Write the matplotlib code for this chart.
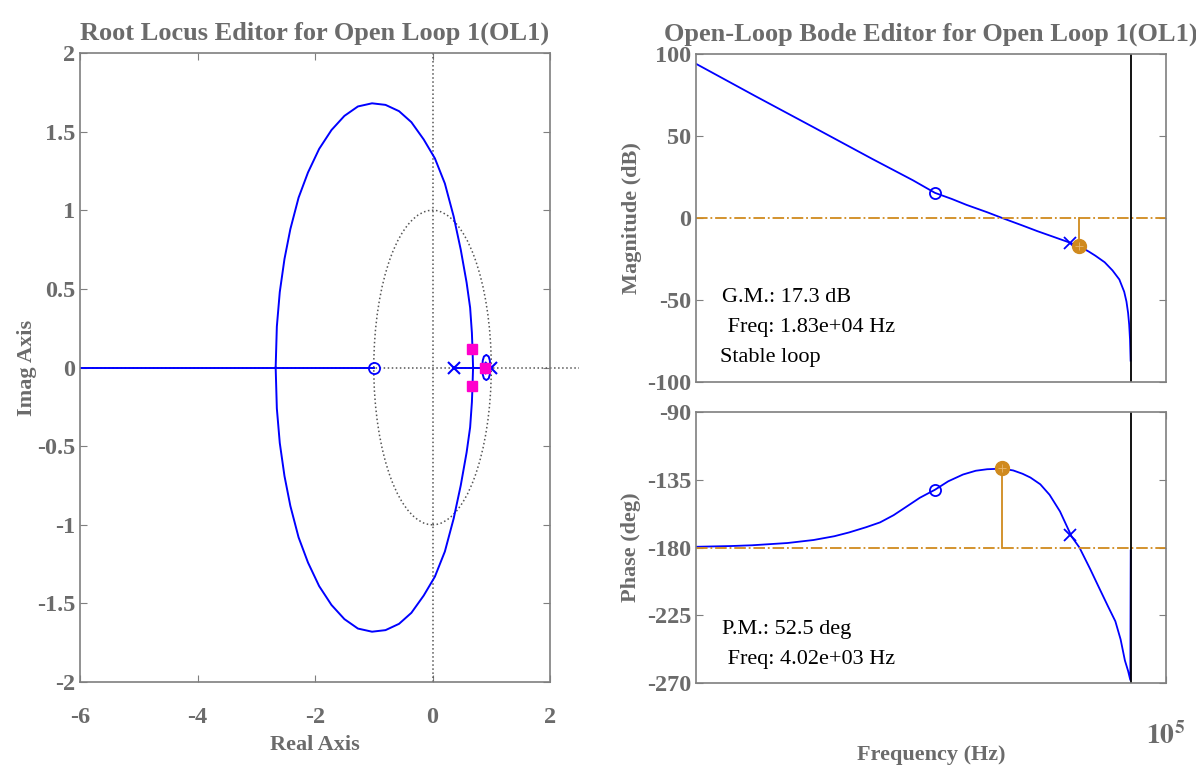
import matplotlib
matplotlib.use("Agg")
import matplotlib.pyplot as plt
from matplotlib.patches import Circle
from matplotlib.ticker import NullLocator

plt.rcParams['font.family'] = ['Liberation Serif', 'DejaVu Serif']
plt.rcParams['mathtext.fontset'] = 'stix'

GRAY = '#6b6b6b'
SPINE = '#7f7f7f'
BLUE = '#0000ff'
ORANGE = '#d08a1e'
MAGENTA = '#ff00cc'

# ---- root locus data ----
rl_up_x = [-2.67, -2.65, -2.60, -2.52, -2.42, -2.28, -2.12, -1.93, -1.72, -1.50, -1.27, -1.03,
           -0.80, -0.57, -0.36, -0.15, 0.04, 0.21, 0.36, 0.48, 0.58, 0.64, 0.67, 0.68, 0.69]
rl_up_y = [0.0, 0.26, 0.48, 0.69, 0.88, 1.08, 1.24, 1.39, 1.51, 1.60, 1.66, 1.68,
           1.67, 1.63, 1.56, 1.45, 1.33, 1.17, 0.96, 0.75, 0.54, 0.38, 0.22, 0.12, 0.0]
rl_lo_y = [0.0, -0.26, -0.48, -0.69, -0.88, -1.08, -1.24, -1.39, -1.51, -1.60, -1.66, -1.68,
           -1.67, -1.63, -1.56, -1.45, -1.33, -1.17, -0.96, -0.75, -0.54, -0.38, -0.22, -0.12, 0.0]
loop_x = [0.845, 0.855, 0.875, 0.915, 0.955, 0.975, 0.985, 0.975, 0.955, 0.915, 0.875, 0.855, 0.845]
loop_y = [0.0, 0.045, 0.07, 0.08, 0.07, 0.045, 0.0, -0.045, -0.07, -0.08, -0.07, -0.045, 0.0]
real_seg1 = [-6.0, -1.0]
real_seg2 = [0.36, 0.87]
ol_poles_x = [0.36, 1.0]
ol_zeros_x = [-1.0]
cl_poles_x = [0.675, 0.675, 0.885]
cl_poles_y = [0.115, -0.115, 0.0]

# ---- bode data ----
mag_f = [10, 31.6, 100, 316, 700, 1080, 1500, 2000, 3000, 4020, 6000, 8000, 11000, 14700,
         18300, 22000, 25000, 30000, 35000, 40000, 44000, 46000, 47500, 48500, 49300, 49900]
mag_db = [94, 74.5, 55.3, 36, 23, 15.3, 11.6, 8, 3.5, 0, -4.6, -8, -11.5, -14.7,
          -17.3, -20.5, -23, -27, -32, -37.5, -45, -51, -58, -65, -74, -87]
ph_f = [10, 20, 30, 60, 100, 150, 200, 280, 368, 480, 600, 800, 1080, 1400, 1870, 2400,
        3000, 4020, 5000, 6000, 7000, 8500, 10200, 12500, 15700, 18300, 22500, 27000,
        32000, 37000, 41000, 44600, 47500, 49600, 49990]
ph_deg = [-179.5, -179, -178.5, -177, -175, -172.5, -170, -166.5, -163.3, -158.5, -153.5,
          -147, -141.6, -136, -131.5, -129, -128, -127.6, -128.8, -131, -133.5, -138, -145,
          -156, -172.7, -180, -194, -207, -219, -229, -241, -255, -262, -268, -182]
f_nyq = 50000
zero_f, zero_mag, zero_ph = 1080, 15.3, -141.6
pole_f, pole_mag, pole_ph = 15200, -15.0, -171.5
gm_f, gm_db = 18300, -17.3
pm_f, pm_deg = 4020, -127.5

fig = plt.figure(figsize=(11.96, 7.69), dpi=100)
ax_rl = fig.add_axes([0.0669, 0.1131, 0.393, 0.818])
ax_mag = fig.add_axes([0.582, 0.5033, 0.393, 0.4265])
ax_ph = fig.add_axes([0.582, 0.1118, 0.393, 0.3524])

label_font = dict(fontsize=16, fontweight='bold', color=GRAY)
title_font = dict(fontsize=19, fontweight='bold', color=GRAY)

for ax in (ax_rl, ax_mag, ax_ph):
    for s in ax.spines.values():
        s.set_color(SPINE)
        s.set_linewidth(1.2)
    ax.tick_params(direction='in', top=True, right=True, color=SPINE, length=5,
                   labelsize=17.5, labelcolor=GRAY)

# ---- root locus ----
ax_rl.axhline(0, color='#555555', ls=':', lw=1.1)
ax_rl.plot([2.0, 2.5], [0, 0], color='#555555', ls=':', lw=1.1, clip_on=False)
ax_rl.axvline(0, color='#555555', ls=':', lw=1.1)
ax_rl.add_patch(Circle((0, 0), 1.0, fill=False, ec='#555555', ls=':', lw=1.1))
ax_rl.plot(rl_up_x, rl_up_y, color=BLUE, lw=1.4)
ax_rl.plot(rl_up_x, rl_lo_y, color=BLUE, lw=1.4)
ax_rl.plot(loop_x, loop_y, color=BLUE, lw=1.4)
ax_rl.plot(real_seg1, [0, 0], color=BLUE, lw=1.4)
ax_rl.plot(real_seg2, [0, 0], color=BLUE, lw=1.4)
ax_rl.plot(ol_poles_x, [0] * len(ol_poles_x), 'x', color=BLUE, ms=9, mew=1.5)
ax_rl.plot(ol_zeros_x, [0] * len(ol_zeros_x), 'o', mfc='none', mec=BLUE, ms=8, mew=1.3)
ax_rl.plot(cl_poles_x, cl_poles_y, 's', color=MAGENTA, ms=7)
ax_rl.set_xlim(-6, 2)
ax_rl.set_ylim(-2, 2)
ax_rl.set_xticks([-6, -4, -2, 0, 2])
ax_rl.set_xticklabels(['-6', '-4', '-2', '0', '2'], fontweight='bold')
ax_rl.set_yticks([-2, -1.5, -1, -0.5, 0, 0.5, 1, 1.5, 2])
ax_rl.set_yticklabels(['-2', '-1.5', '-1', '-0.5', '0', '0.5', '1', '1.5', '2'], fontweight='bold')
ax_rl.tick_params(axis='x', pad=18)
ax_rl.set_xlabel('Real Axis', labelpad=5, **label_font)
ax_rl.set_ylabel('Imag Axis', labelpad=0, **label_font)
ax_rl.set_title('Root Locus Editor for Open Loop 1(OL1)', pad=10, **title_font)

# ---- magnitude ----
ax_mag.set_xscale('log')
ax_mag.plot(mag_f, mag_db, color=BLUE, lw=1.3)
ax_mag.axhline(0, color=ORANGE, ls='-.', lw=1.3)
ax_mag.axvline(f_nyq, color='black', lw=1.3)
ax_mag.plot([gm_f, gm_f], [0, gm_db], color=ORANGE, lw=1.3)
ax_mag.plot([zero_f], [zero_mag], 'o', mfc='none', mec=BLUE, ms=8, mew=1.3)
ax_mag.plot([pole_f], [pole_mag], 'x', color=BLUE, ms=8, mew=1.3)
ax_mag.plot([gm_f], [gm_db], 'o', color=ORANGE, ms=10)
ax_mag.plot([gm_f], [gm_db], '+', color='#e8b870', ms=6, mew=0.6)
ax_mag.set_xlim(10, 1e5)
ax_mag.set_ylim(-100, 100)
ax_mag.set_xticks([])
ax_mag.xaxis.set_minor_locator(NullLocator())
ax_mag.set_yticks([-100, -50, 0, 50, 100])
ax_mag.set_yticklabels(['-100', '-50', '0', '50', '100'], fontweight='bold')
ax_mag.set_ylabel('Magnitude (dB)', labelpad=4, **label_font)
ax_mag.set_title('Open-Loop Bode Editor for Open Loop 1(OL1)', pad=10, **title_font)
ann = dict(fontsize=16, color='black', transform=ax_mag.transAxes, va='center')
ax_mag.text(0.055, 0.256, 'G.M.: 17.3 dB', **ann)
ax_mag.text(0.055, 0.165, ' Freq: 1.83e+04 Hz', **ann)
ax_mag.text(0.05, 0.076, 'Stable loop', **ann)

# ---- phase ----
ax_ph.set_xscale('log')
ax_ph.plot(ph_f, ph_deg, color=BLUE, lw=1.3)
ax_ph.axhline(-180, color=ORANGE, ls='-.', lw=1.3)
ax_ph.axvline(f_nyq, color='black', lw=1.3)
ax_ph.plot([pm_f, pm_f], [-180, pm_deg], color=ORANGE, lw=1.3)
ax_ph.plot([zero_f], [zero_ph], 'o', mfc='none', mec=BLUE, ms=8, mew=1.3)
ax_ph.plot([pole_f], [pole_ph], 'x', color=BLUE, ms=8, mew=1.3)
ax_ph.plot([pm_f], [pm_deg], 'o', color=ORANGE, ms=10)
ax_ph.plot([pm_f], [pm_deg], '+', color='#e8b870', ms=6, mew=0.6)
ax_ph.set_xlim(10, 1e5)
ax_ph.set_ylim(-270, -90)
ax_ph.set_yticks([-270, -225, -180, -135, -90])
ax_ph.set_yticklabels(['-270', '-225', '-180', '-135', '-90'], fontweight='bold')
ax_ph.set_xticks([1e5])
ax_ph.set_xticklabels([r'$\mathbf{10^{5}}$'])
ax_ph.xaxis.set_minor_locator(NullLocator())
ax_ph.tick_params(axis='x', pad=28, labelsize=20)
ax_ph.set_ylabel('Phase (deg)', labelpad=4, **label_font)
ax_ph.set_xlabel('Frequency (Hz)', labelpad=-3, **label_font)
ann['transform'] = ax_ph.transAxes
ax_ph.text(0.055, 0.196, 'P.M.: 52.5 deg', **ann)
ax_ph.text(0.055, 0.085, ' Freq: 4.02e+03 Hz', **ann)

fig.savefig('out.png', dpi=100)
